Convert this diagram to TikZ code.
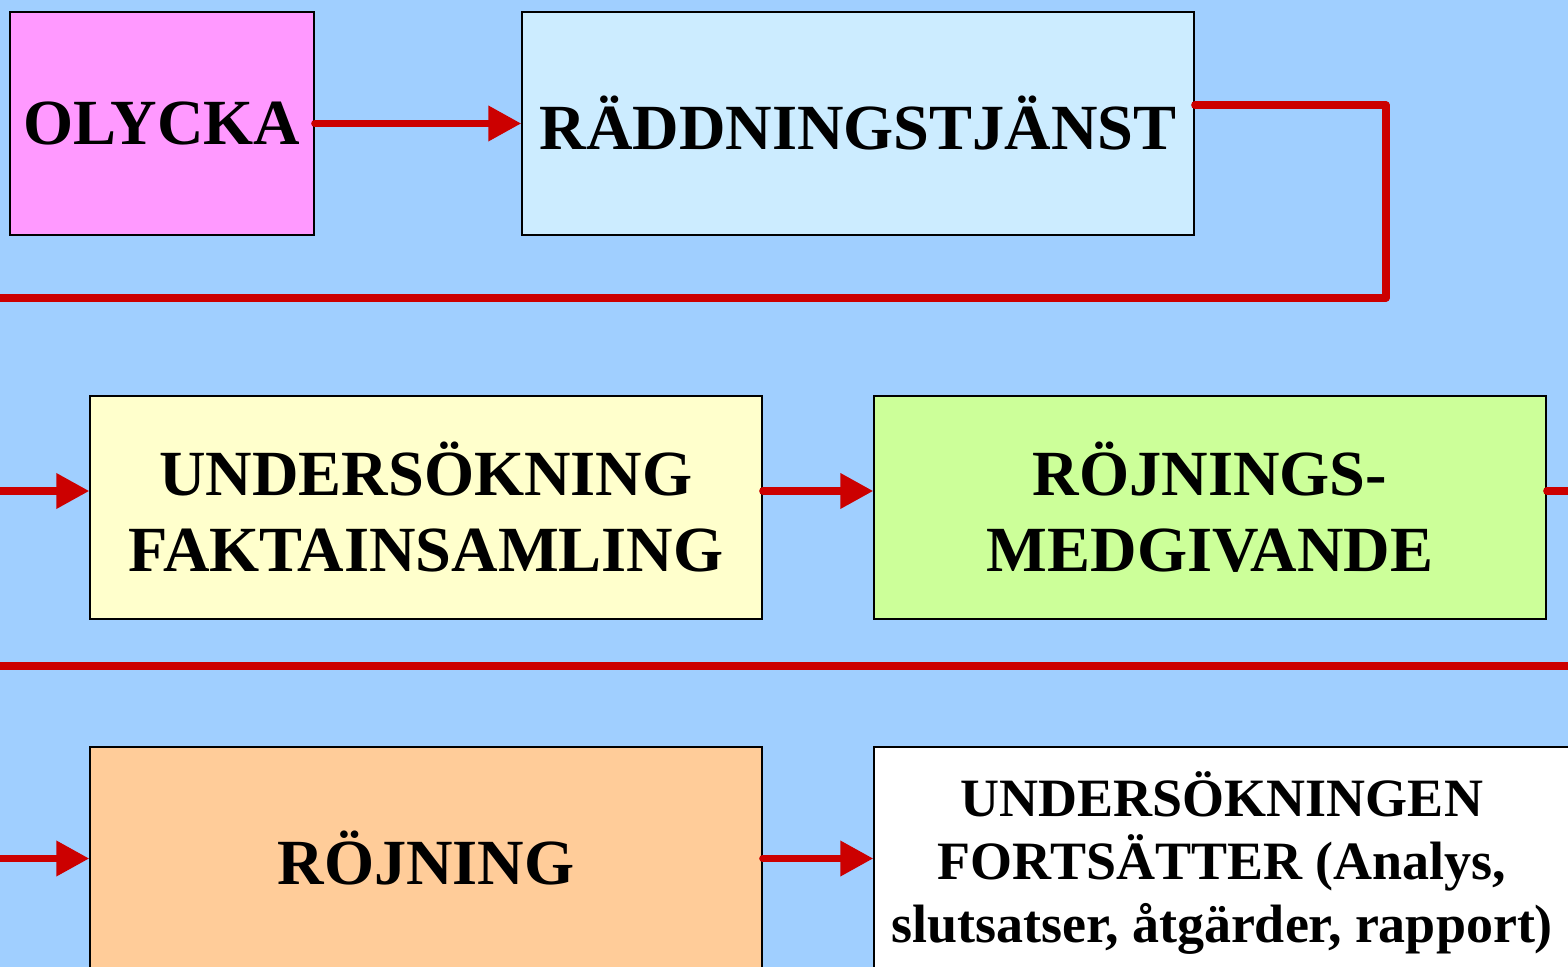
\documentclass[tikz,border=0pt]{standalone}
\usepackage{fontspec}
\setmainfont{Liberation Serif}
\usepackage{xcolor}
\usetikzlibrary{arrows.meta}
\definecolor{bgblue}{HTML}{A0CFFF}
\definecolor{linered}{HTML}{CC0000}
\definecolor{olyckafill}{HTML}{FF99FF}
\definecolor{raddfill}{HTML}{CCECFF}
\definecolor{undfill}{HTML}{FFFFCC}
\definecolor{medgfill}{HTML}{CCFF99}
\definecolor{rojfill}{HTML}{FFCC99}

\begin{document}
\begin{tikzpicture}[
            x = 0.5pt, y = -0.5pt,
            box/.style = {draw, line width = 0.75pt, inner sep = 0pt, align = center,
                minimum width = 336pt, minimum height = 111.5pt,
                font = \bfseries\fontsize{32.2}{38}\selectfont},
            redline/.style = {draw = linered, line width = 3.6pt, line cap = round, line join = round},
            arr/.style = {redline, -{Triangle[length = 16.5pt, width = 17pt]}}
        ]
        \fill[bgblue] (0,0) rectangle (1568,967);
        \useasboundingbox (0,0) rectangle (1568,967);
        \clip (0,0) rectangle (1568,967);
        % boxes
        \node[box, fill = olyckafill, minimum width = 152pt] (olycka) at (162,123.5) {OLYCKA};
        \node[box, fill = raddfill] (radd) at (858,123.5) {RÄDDNINGSTJÄNST};
        \node[box, fill = undfill] (unders) at (426,507.5) {UNDERSÖKNING\\FAKTAINSAMLING};
        \node[box, fill = medgfill] (medg) at (1210,507.5) {RÖJNINGS-\\MEDGIVANDE};
        \node[box, fill = rojfill] (rojning) at (426,858.5) {RÖJNING};
        \node[box, fill = white, minimum width = 348pt, minimum height = 115.5pt,
            font = \bfseries\fontsize{27}{31.5}\selectfont] (fortsatt) at (1222,862.5)
            {UNDERSÖKNINGEN\\FORTSÄTTER (Analys,\\slutsatser, åtgärder, rapport)};
        % free ends
        \coordinate (k1) at (1386,105);
        \coordinate (k2) at (1386,298);
        \coordinate (k3) at (-20,298);
        \coordinate (in2) at (-20,491);
        \coordinate (out2) at (1590,491);
        \coordinate (l3a) at (-20,666);
        \coordinate (l3b) at (1590,666);
        \coordinate (in3) at (-20,858.5);
        % connectors
        \path (olycka.east) edge[arr] (radd.west);
        \draw[redline] (radd.east |- k1) -- (k1) -- (k2) -- (k3);
        \path (in2) edge[arr] (in2 -| unders.west);
        \path (in2 -| unders.east) edge[arr] (in2 -| medg.west);
        \draw[redline] (in2 -| medg.east) -- (out2);
        \draw[redline] (l3a) -- (l3b);
        \path (in3) edge[arr] (rojning.west);
        \path (rojning.east) edge[arr] (fortsatt.west |- rojning.east);
    \end{tikzpicture}
\end{document}
